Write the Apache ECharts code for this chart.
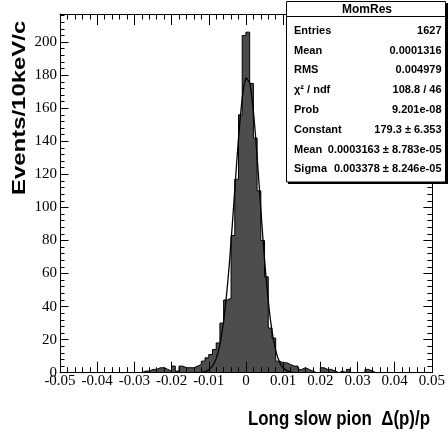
<!DOCTYPE html>
<html><head><meta charset="utf-8">
<script src="https://cdn.jsdelivr.net/npm/echarts@6/dist/echarts.min.js"></script>
<style>html,body{margin:0;padding:0;background:#fff}#c{width:448px;height:439px}</style>
</head><body><div id="c"></div>
<script>
// ---- data ----
const histName = 'MomRes';
const binLow = -0.05;      // histogram range start
const binHigh = 0.05;      // histogram range end
const binWidth = 0.001;    // 100 bins
const counts = [
  0,0,0,0,0,0,0,0,0,0,
  0,0,0,0,0,0,0,0,0,0,
  0,0,1,1,2,2,3,3,2,1,
  4,1,4,3,3,3,4,5,7,9,
  11,14,18,30,44,45,83,117,156,204,
  206,175,142,110,80,58,27,21,7,6,
  6,5,4,4,2,3,2,1,0,0,
  3,2,2,1,0,1,0,2,0,0,
  0,0,2,1,0,0,0,0,0,0,
  0,0,0,0,0,0,0,0,0,0
];
// fitted gaussian curve
const fitX = [-0.012,-0.0115,-0.011,-0.0105,-0.010,-0.0095,-0.009,-0.0085,-0.008,-0.0075,
  -0.007,-0.0065,-0.006,-0.0055,-0.005,-0.0045,-0.004,-0.0035,-0.003,-0.0025,
  -0.002,-0.0015,-0.001,-0.0005,0,0.0005,0.001,0.0015,0.002,0.0025,
  0.003,0.0035,0.004,0.0045,0.005,0.0055,0.006,0.0065,0.007,0.0075,
  0.008,0.0085,0.009,0.0095,0.010,0.0105,0.011,0.0115,0.012,0.0125];
const fitY = [0.23,0.40,0.66,1.07,1.69,2.63,4.00,5.95,8.66,12.33,
  17.19,23.41,31.22,40.73,51.98,64.89,79.27,94.72,110.75,126.67,
  141.75,155.19,166.19,174.14,178.52,179.03,175.66,168.61,158.34,145.49,
  130.76,114.98,98.92,83.27,68.56,55.23,43.53,33.56,25.32,18.69,
  13.49,9.53,6.58,4.45,2.94,1.91,1.21,0.75,0.45,0.27];
const statLabels = ['Entries','Mean','RMS','\u03c7\u00b2 / ndf','Prob','Constant','Mean','Sigma'];
const statValues = ['1627','0.0001316','0.004979','108.8 / 46','9.201e-08',
  '179.3 \u00b1 6.353','0.0003163 \u00b1 8.783e-05','0.003378 \u00b1 8.246e-05'];
const xTitle = 'Long slow pion  \u0394(p)/p';
const yTitle = 'Events/10keV/c';
const yMax = 217;

// ---- build ----
const histLine = counts.map((c, i) => [binLow + i * binWidth, c]);
histLine.push([binLow + counts.length * binWidth, counts[counts.length - 1]]);
const fitLine = fitX.map((x, i) => [x, fitY[i]]);

const serif = 'Liberation Serif';
const sans = 'Liberation Sans';

function xAx(pos, show) {
  return {
    type: 'value', position: pos, min: binLow, max: binHigh, interval: 0.01, z: 5,
    axisLine: { show: true, onZero: false, lineStyle: { color: '#000', width: 1 } },
    axisTick: { show: true, inside: true, length: 11, lineStyle: { color: '#000' } },
    minorTick: { show: true, splitNumber: 5, length: 5.5, lineStyle: { color: '#000' } },
    splitLine: { show: false },
    axisLabel: { show: show, color: '#000', fontFamily: serif, fontSize: 15, margin: 1,
      showMinLabel: true, showMaxLabel: true }
  };
}
function yAx(pos, show) {
  return {
    type: 'value', position: pos, min: 0, max: yMax, interval: 20, z: 5,
    axisLine: { show: true, onZero: false, lineStyle: { color: '#000', width: 1 } },
    axisTick: { show: true, inside: true, length: 8.5, lineStyle: { color: '#000' } },
    minorTick: { show: true, splitNumber: 5, length: 4.5, lineStyle: { color: '#000' } },
    splitLine: { show: false },
    axisLabel: { show: show, color: '#000', fontFamily: serif, fontSize: 15, margin: 3,
      showMaxLabel: false }
  };
}

function txt(x, y, text, size, align, extra) {
  return Object.assign({ type: 'text', x: x, y: y, z: 103,
    style: { text: text, fontFamily: sans, fontWeight: 'bold', fontSize: size, fill: '#000',
      align: align, textAlign: align, verticalAlign: 'middle', textVerticalAlign: 'middle' } }, extra || {});
}

const graphics = [];
graphics.push(txt(20.3, 20.7, yTitle, 18, 'right', { rotation: Math.PI / 2, scaleX: 1.33 }));
graphics.push(txt(430, 419, xTitle, 21, 'right', { scaleX: 0.805 }));
// stats box
graphics.push({ type: 'rect', z: 100, shape: { x: 288, y: 3, width: 160, height: 181 }, style: { fill: '#000' } });
graphics.push({ type: 'rect', z: 101, shape: { x: 286.5, y: 1.5, width: 159, height: 180.5 },
  style: { fill: '#fff', stroke: '#000', lineWidth: 1 } });
graphics.push({ type: 'line', z: 102, shape: { x1: 286.5, y1: 16.5, x2: 445.5, y2: 16.5 },
  style: { stroke: '#000', lineWidth: 1 } });
graphics.push(txt(367, 9.5, histName, 12, 'center'));
statLabels.forEach((lab, k) => {
  const yy = 30.7 + 19.8 * k;
  graphics.push(txt(294, yy, lab, 11, 'left'));
  graphics.push(txt(441.5, yy, statValues[k], 11, 'right'));
});

const chart = echarts.init(document.getElementById('c'), null, { renderer: 'canvas' });
chart.setOption({
  animation: false,
  backgroundColor: '#fff',
  grid: { left: 60, top: 14, width: 375.5, height: 358.7, containLabel: false },
  xAxis: [xAx('bottom', true), xAx('top', false)],
  yAxis: [yAx('left', true), yAx('right', false)],
  series: [
    { type: 'line', xAxisIndex: 0, yAxisIndex: 0, data: histLine, step: 'end', symbol: 'none',
      lineStyle: { color: '#000', width: 1 }, areaStyle: { color: '#4d4d4d', opacity: 1 }, z: 2 },
    { type: 'line', xAxisIndex: 0, yAxisIndex: 0, data: fitLine, symbol: 'none', smooth: false,
      lineStyle: { color: '#000', width: 1.3 }, z: 3 }
  ],
  graphic: { elements: graphics }
});
</script></body></html>
